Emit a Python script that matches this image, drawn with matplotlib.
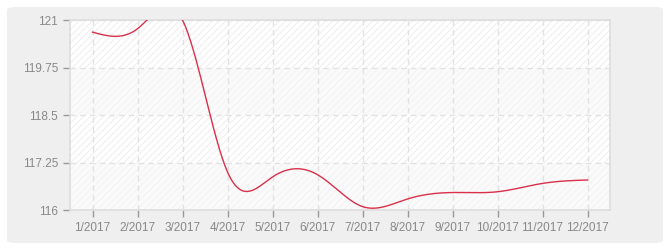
import matplotlib.pyplot as plt
import numpy as np
from matplotlib.patches import FancyBboxPatch

months = np.arange(1, 13)
month_labels = ["%d/2017" % m for m in months]
values = [120.68, 120.77, 121.0, 117.0, 116.87, 116.93,
          116.09, 116.29, 116.46, 116.48, 116.70, 116.79]
y_ticks = [116, 117.25, 118.5, 119.75, 121]
y_labels = ["116", "117.25", "118.5", "119.75", "121"]

line_red = '#d9304a'
grid_gray = '#e2e2e2'
text_gray = '#888888'
panel_gray = '#efefef'


def natural_spline(x, y, n=600):
    x = np.asarray(x, float)
    y = np.asarray(y, float)
    k = len(x)
    h = np.diff(x)
    A = np.zeros((k, k))
    b = np.zeros(k)
    A[0, 0] = 1
    A[-1, -1] = 1
    for i in range(1, k - 1):
        A[i, i - 1] = h[i - 1]
        A[i, i] = 2 * (h[i - 1] + h[i])
        A[i, i + 1] = h[i]
        b[i] = 6 * ((y[i + 1] - y[i]) / h[i] - (y[i] - y[i - 1]) / h[i - 1])
    M = np.linalg.solve(A, b)
    xs = np.linspace(x[0], x[-1], n)
    idx = np.clip(np.searchsorted(x, xs) - 1, 0, k - 2)
    x0, x1 = x[idx], x[idx + 1]
    hi = h[idx]
    ys = (M[idx] * (x1 - xs) ** 3 / (6 * hi) + M[idx + 1] * (xs - x0) ** 3 / (6 * hi)
          + (y[idx] / hi - M[idx] * hi / 6) * (x1 - xs)
          + (y[idx + 1] / hi - M[idx + 1] * hi / 6) * (xs - x0))
    return xs, ys


plt.rcParams['hatch.linewidth'] = 0.6
plt.rcParams['font.family'] = ['Liberation Sans', 'DejaVu Sans']

fig = plt.figure(figsize=(6.7, 2.5), dpi=100)
fig.patch.set_facecolor('white')
panel = FancyBboxPatch((7 / 670, 7 / 250), 656 / 670, 236 / 250,
                       boxstyle="round,pad=0,rounding_size=0.012",
                       transform=fig.transFigure, facecolor=panel_gray,
                       edgecolor='none', zorder=-10)
fig.patches.append(panel)

ax = fig.add_axes([70 / 670, 40 / 250, 540 / 670, 190 / 250])
ax.set_facecolor('white')

# alternating hatched bands
for i in range(len(y_ticks) - 1):
    if i % 2 == 0:
        ax.axhspan(y_ticks[i], y_ticks[i + 1], facecolor='#fafafa', edgecolor='#f2f2f2',
                   hatch='/////', linewidth=0, zorder=0)
    else:
        ax.axhspan(y_ticks[i], y_ticks[i + 1], facecolor='white', edgecolor='#ebebeb',
                   hatch='/////', linewidth=0, zorder=0)

xs, ys = natural_spline(months, values)
ax.plot(xs, ys, color=line_red, linewidth=1.0, zorder=3)

ax.set_xlim(0.5, 12.5)
ax.set_ylim(116, 121)
ax.set_xticks(months)
ax.set_xticklabels(month_labels)
ax.set_yticks(y_ticks)
ax.set_yticklabels(y_labels)

ax.grid(True, color=grid_gray, linestyle=(0, (4, 3)), linewidth=1, zorder=1)
ax.set_axisbelow(True)
for side in ['top', 'right', 'left', 'bottom']:
    ax.spines[side].set_color('#dddddd')
    ax.spines[side].set_linewidth(1.2)
ax.tick_params(axis='both', colors='#999999', labelcolor=text_gray, labelsize=8.5,
               length=5, width=1)

fig.savefig('out.png', dpi=100, facecolor='white')
